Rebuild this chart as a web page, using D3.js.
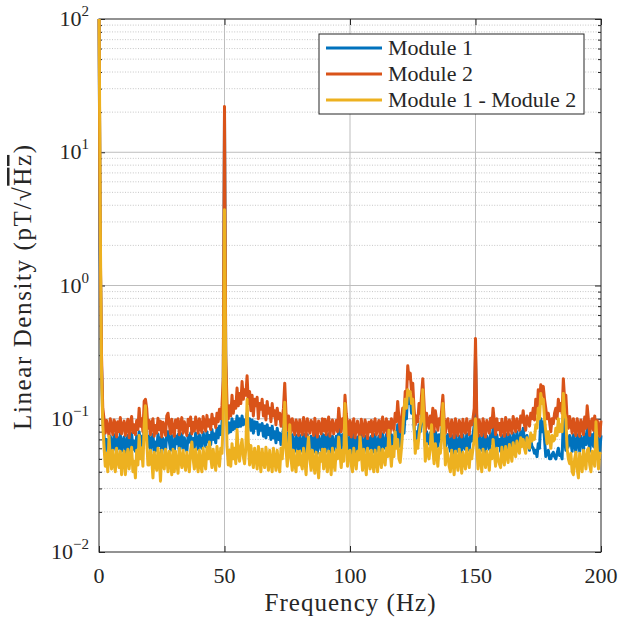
<!DOCTYPE html>
<html>
<head>
<meta charset="utf-8">
<script src="https://cdnjs.cloudflare.com/ajax/libs/d3/7.8.5/d3.min.js"></script>
<style>
body {margin: 0; background: #fff;}
svg text {font-family: "Liberation Serif", "DejaVu Serif", serif; fill: #262626;}
</style>
</head>
<body>
<div class="canvas"></div>
<script>
// data: 0.5 Hz bins, 0..200 Hz, one row = 10 Hz
const freqStep = 0.5;

const module1 = [
  110, 1.8, 0.25, 0.1, 0.075, 0.057, 0.07, 0.063, 0.056, 0.074, 0.066, 0.058, 0.076, 0.068, 0.055, 0.072, 0.06, 0.077, 0.057, 0.068,
  0.073, 0.056, 0.066, 0.075, 0.055, 0.07, 0.078, 0.059, 0.068, 0.057, 0.074, 0.062, 0.08, 0.064, 0.074, 0.06, 0.085, 0.09, 0.08, 0.062,
  0.074, 0.057, 0.069, 0.076, 0.056, 0.067, 0.058, 0.077, 0.063, 0.072, 0.055, 0.071, 0.066, 0.057, 0.078, 0.08, 0.068, 0.058, 0.075, 0.062,
  0.056, 0.074, 0.065, 0.076, 0.057, 0.069, 0.077, 0.059, 0.072, 0.063, 0.057, 0.075, 0.067, 0.078, 0.058, 0.071, 0.061, 0.078, 0.069, 0.059,
  0.076, 0.064, 0.06, 0.079, 0.07, 0.062, 0.08, 0.067, 0.075, 0.064, 0.083, 0.07, 0.077, 0.066, 0.085, 0.072, 0.088, 0.076, 0.092, 0.15,
  19, 0.25, 0.095, 0.078, 0.093, 0.08, 0.1, 0.083, 0.095, 0.085, 0.105, 0.087, 0.1, 0.088, 0.105, 0.09, 0.098, 0.092, 0.11, 0.09,
  0.1, 0.082, 0.098, 0.078, 0.095, 0.085, 0.094, 0.076, 0.09, 0.082, 0.092, 0.074, 0.088, 0.072, 0.09, 0.076, 0.085, 0.07, 0.088, 0.072,
  0.08, 0.066, 0.085, 0.07, 0.078, 0.064, 0.072, 0.085, 0.12, 0.08, 0.062, 0.078, 0.07, 0.058, 0.076, 0.066, 0.057, 0.075, 0.068, 0.056,
  0.075, 0.064, 0.057, 0.077, 0.068, 0.056, 0.076, 0.065, 0.058, 0.074, 0.069, 0.056, 0.078, 0.063, 0.055, 0.074, 0.066, 0.058, 0.077, 0.061,
  0.075, 0.057, 0.07, 0.077, 0.056, 0.068, 0.074, 0.058, 0.066, 0.074, 0.06, 0.085, 0.07, 0.06, 0.076, 0.064, 0.1, 0.08, 0.066, 0.057,
  0.074, 0.055, 0.067, 0.076, 0.054, 0.064, 0.073, 0.058, 0.054, 0.075, 0.063, 0.056, 0.074, 0.066, 0.054, 0.072, 0.06, 0.074, 0.056, 0.068,
  0.076, 0.057, 0.066, 0.074, 0.055, 0.07, 0.077, 0.06, 0.065, 0.076, 0.056, 0.072, 0.059, 0.076, 0.068, 0.062, 0.08, 0.07, 0.09, 0.075,
  0.062, 0.075, 0.085, 0.078, 0.11, 0.1, 0.16, 0.13, 0.15, 0.11, 0.13, 0.09, 0.068, 0.08, 0.072, 0.09, 0.08, 0.1, 0.13, 0.09,
  0.062, 0.08, 0.072, 0.065, 0.078, 0.068, 0.085, 0.062, 0.08, 0.074, 0.062, 0.076, 0.068, 0.08, 0.1, 0.075, 0.06, 0.072, 0.076, 0.063,
  0.057, 0.075, 0.066, 0.055, 0.076, 0.064, 0.057, 0.074, 0.068, 0.056, 0.076, 0.062, 0.059, 0.077, 0.066, 0.058, 0.074, 0.068, 0.076, 0.09,
  0.3, 0.085, 0.057, 0.075, 0.065, 0.058, 0.077, 0.067, 0.056, 0.074, 0.068, 0.059, 0.077, 0.065, 0.085, 0.072, 0.058, 0.076, 0.063, 0.07,
  0.057, 0.075, 0.065, 0.058, 0.077, 0.068, 0.059, 0.076, 0.066, 0.06, 0.078, 0.07, 0.062, 0.08, 0.068, 0.062, 0.08, 0.072, 0.085, 0.068,
  0.06, 0.075, 0.066, 0.058, 0.07, 0.062, 0.06, 0.055, 0.058, 0.052, 0.065, 0.06, 0.1, 0.08, 0.095, 0.07, 0.052, 0.056, 0.058, 0.05,
  0.05, 0.054, 0.056, 0.052, 0.05, 0.055, 0.06, 0.053, 0.054, 0.05, 0.1, 0.07, 0.058, 0.06, 0.062, 0.075, 0.068, 0.057, 0.076, 0.064,
  0.056, 0.076, 0.066, 0.057, 0.074, 0.068, 0.058, 0.077, 0.064, 0.085, 0.072, 0.057, 0.07, 0.076, 0.062, 0.08, 0.059, 0.074, 0.066, 0.057,
  0.075
];

const module2 = [
  120, 2.0, 0.3, 0.12, 0.1, 0.078, 0.097, 0.085, 0.074, 0.1, 0.088, 0.076, 0.098, 0.092, 0.073, 0.095, 0.08, 0.102, 0.077, 0.09,
  0.096, 0.075, 0.088, 0.099, 0.072, 0.093, 0.104, 0.079, 0.09, 0.076, 0.097, 0.083, 0.12, 0.088, 0.1, 0.08, 0.135, 0.14, 0.12, 0.085,
  0.097, 0.076, 0.092, 0.1, 0.074, 0.089, 0.078, 0.101, 0.083, 0.096, 0.073, 0.094, 0.088, 0.075, 0.105, 0.11, 0.09, 0.077, 0.099, 0.082,
  0.074, 0.098, 0.086, 0.1, 0.076, 0.091, 0.102, 0.078, 0.095, 0.084, 0.075, 0.099, 0.089, 0.103, 0.077, 0.094, 0.081, 0.103, 0.092, 0.078,
  0.1, 0.085, 0.079, 0.104, 0.092, 0.081, 0.106, 0.088, 0.098, 0.083, 0.108, 0.092, 0.1, 0.086, 0.11, 0.095, 0.118, 0.1, 0.126, 0.2,
  22, 0.3, 0.13, 0.1, 0.125, 0.105, 0.15, 0.11, 0.135, 0.12, 0.17, 0.125, 0.155, 0.13, 0.19, 0.14, 0.165, 0.15, 0.21, 0.13,
  0.16, 0.115, 0.15, 0.105, 0.14, 0.125, 0.145, 0.1, 0.13, 0.118, 0.14, 0.105, 0.125, 0.098, 0.135, 0.11, 0.12, 0.095, 0.13, 0.105,
  0.115, 0.09, 0.12, 0.1, 0.11, 0.088, 0.1, 0.12, 0.185, 0.11, 0.082, 0.105, 0.094, 0.079, 0.1, 0.087, 0.076, 0.098, 0.09, 0.075,
  0.098, 0.084, 0.076, 0.102, 0.09, 0.074, 0.1, 0.086, 0.078, 0.097, 0.092, 0.075, 0.101, 0.083, 0.073, 0.096, 0.088, 0.077, 0.1, 0.081,
  0.099, 0.076, 0.093, 0.103, 0.074, 0.09, 0.098, 0.077, 0.087, 0.097, 0.08, 0.12, 0.093, 0.08, 0.1, 0.085, 0.15, 0.11, 0.088, 0.076,
  0.097, 0.073, 0.089, 0.1, 0.072, 0.085, 0.096, 0.078, 0.071, 0.099, 0.084, 0.074, 0.098, 0.087, 0.071, 0.094, 0.08, 0.097, 0.074, 0.09,
  0.1, 0.076, 0.088, 0.097, 0.073, 0.092, 0.103, 0.079, 0.086, 0.1, 0.074, 0.095, 0.078, 0.1, 0.09, 0.082, 0.11, 0.095, 0.135, 0.1,
  0.08, 0.098, 0.12, 0.105, 0.16, 0.14, 0.25, 0.2, 0.22, 0.16, 0.185, 0.12, 0.09, 0.105, 0.095, 0.13, 0.11, 0.15, 0.2, 0.13,
  0.08, 0.11, 0.095, 0.085, 0.105, 0.09, 0.12, 0.08, 0.115, 0.098, 0.082, 0.1, 0.09, 0.115, 0.15, 0.1, 0.078, 0.095, 0.1, 0.083,
  0.074, 0.098, 0.088, 0.072, 0.1, 0.084, 0.075, 0.097, 0.09, 0.073, 0.099, 0.082, 0.078, 0.1, 0.087, 0.076, 0.096, 0.09, 0.1, 0.12,
  0.4, 0.11, 0.074, 0.098, 0.085, 0.075, 0.1, 0.088, 0.073, 0.097, 0.09, 0.078, 0.101, 0.086, 0.12, 0.095, 0.076, 0.1, 0.083, 0.092,
  0.075, 0.099, 0.085, 0.074, 0.102, 0.09, 0.076, 0.098, 0.087, 0.078, 0.104, 0.092, 0.08, 0.1, 0.088, 0.082, 0.105, 0.094, 0.115, 0.09,
  0.082, 0.105, 0.095, 0.088, 0.11, 0.1, 0.12, 0.098, 0.14, 0.11, 0.165, 0.13, 0.18, 0.15, 0.175, 0.14, 0.12, 0.1, 0.11, 0.095,
  0.08, 0.1, 0.092, 0.11, 0.12, 0.1, 0.14, 0.115, 0.13, 0.11, 0.2, 0.14, 0.15, 0.1, 0.085, 0.104, 0.092, 0.078, 0.1, 0.086,
  0.075, 0.1, 0.088, 0.074, 0.098, 0.09, 0.076, 0.103, 0.085, 0.125, 0.098, 0.075, 0.094, 0.1, 0.082, 0.105, 0.078, 0.097, 0.088, 0.074,
  0.097
];

const moduleDiff = [
  150, 3, 0.22, 0.09, 0.062, 0.044, 0.055, 0.04, 0.074, 0.05, 0.042, 0.058, 0.046, 0.04, 0.06, 0.049, 0.043, 0.057, 0.038, 0.052,
  0.057, 0.038, 0.05, 0.059, 0.042, 0.052, 0.061, 0.04, 0.048, 0.036, 0.058, 0.045, 0.075, 0.05, 0.06, 0.044, 0.09, 0.125, 0.07, 0.045,
  0.045, 0.058, 0.05, 0.036, 0.056, 0.047, 0.041, 0.06, 0.05, 0.034, 0.058, 0.046, 0.042, 0.059, 0.052, 0.04, 0.057, 0.048, 0.038, 0.059,
  0.04, 0.057, 0.046, 0.039, 0.06, 0.05, 0.043, 0.058, 0.047, 0.041, 0.056, 0.048, 0.04, 0.058, 0.067, 0.05, 0.042, 0.059, 0.047, 0.04,
  0.058, 0.045, 0.04, 0.06, 0.048, 0.042, 0.061, 0.05, 0.067, 0.052, 0.043, 0.059, 0.048, 0.041, 0.062, 0.05, 0.044, 0.06, 0.055, 0.1,
  3.7, 0.2, 0.062, 0.045, 0.058, 0.044, 0.065, 0.05, 0.06, 0.046, 0.083, 0.055, 0.048, 0.062, 0.07, 0.052, 0.046, 0.06, 0.14, 0.065,
  0.045, 0.063, 0.05, 0.043, 0.06, 0.052, 0.042, 0.062, 0.05, 0.04, 0.059, 0.048, 0.043, 0.061, 0.05, 0.041, 0.058, 0.047, 0.04, 0.06,
  0.049, 0.041, 0.058, 0.046, 0.04, 0.06, 0.05, 0.07, 0.133, 0.06, 0.044, 0.058, 0.09, 0.05, 0.041, 0.058, 0.046, 0.04, 0.057, 0.045,
  0.057, 0.046, 0.042, 0.06, 0.05, 0.038, 0.058, 0.073, 0.05, 0.041, 0.058, 0.047, 0.039, 0.056, 0.046, 0.036, 0.055, 0.048, 0.059, 0.042,
  0.059, 0.047, 0.04, 0.057, 0.05, 0.038, 0.06, 0.047, 0.041, 0.058, 0.05, 0.073, 0.055, 0.043, 0.058, 0.048, 0.13, 0.07, 0.044, 0.056,
  0.058, 0.045, 0.04, 0.06, 0.05, 0.042, 0.057, 0.049, 0.073, 0.055, 0.041, 0.059, 0.047, 0.038, 0.06, 0.05, 0.042, 0.058, 0.046, 0.04,
  0.058, 0.048, 0.04, 0.061, 0.05, 0.043, 0.059, 0.05, 0.045, 0.06, 0.052, 0.082, 0.058, 0.044, 0.062, 0.052, 0.08, 0.06, 0.07, 0.05,
  0.047, 0.06, 0.08, 0.12, 0.14, 0.12, 0.165, 0.15, 0.16, 0.13, 0.14, 0.09, 0.055, 0.068, 0.06, 0.075, 0.09, 0.1, 0.165, 0.09,
  0.048, 0.065, 0.055, 0.05, 0.062, 0.09, 0.06, 0.046, 0.065, 0.055, 0.044, 0.06, 0.055, 0.07, 0.13, 0.08, 0.045, 0.06, 0.052, 0.044,
  0.04, 0.058, 0.048, 0.038, 0.057, 0.047, 0.041, 0.059, 0.05, 0.039, 0.056, 0.048, 0.042, 0.06, 0.05, 0.043, 0.058, 0.05, 0.06, 0.07,
  0.1, 0.065, 0.042, 0.058, 0.05, 0.04, 0.059, 0.05, 0.043, 0.057, 0.05, 0.041, 0.058, 0.05, 0.07, 0.055, 0.044, 0.06, 0.05, 0.046,
  0.043, 0.061, 0.05, 0.045, 0.062, 0.053, 0.047, 0.064, 0.055, 0.048, 0.066, 0.057, 0.052, 0.068, 0.06, 0.055, 0.072, 0.062, 0.07, 0.06,
  0.055, 0.072, 0.065, 0.06, 0.078, 0.068, 0.075, 0.07, 0.09, 0.085, 0.12, 0.1, 0.155, 0.13, 0.14, 0.1, 0.08, 0.065, 0.08, 0.07,
  0.06, 0.075, 0.068, 0.07, 0.085, 0.075, 0.1, 0.08, 0.09, 0.08, 0.155, 0.11, 0.1, 0.06, 0.05, 0.046, 0.055, 0.04, 0.038, 0.05,
  0.056, 0.042, 0.036, 0.055, 0.047, 0.04, 0.058, 0.05, 0.042, 0.058, 0.06, 0.045, 0.04, 0.057, 0.05, 0.044, 0.095, 0.06, 0.042, 0.055,
  0.056
];

const seriesNames = ['Module 1', 'Module 2', 'Module 1 - Module 2'];
const seriesColours = ['#0072BD', '#D95319', '#EDB120'];
const xTicks = [0, 50, 100, 150, 200];
const yTicks = [1e-2, 1e-1, 1e0, 1e1, 1e2];
const yExponents = ['\u22122', '\u22121', '0', '1', '2'];

const dims = {width: 618, height: 618};
const plot = {left: 99, right: 601, top: 19, bottom: 552};
const serif = '"Liberation Serif", "DejaVu Serif", serif';

const svg = d3.select('.canvas')
    .append('svg')
    .attr('width', dims.width)
    .attr('height', dims.height)
    .attr('font-family', serif);

const x = d3.scaleLinear().domain([0, 200]).range([plot.left, plot.right]);
const y = d3.scaleLog().domain([1e-2, 1e2]).range([plot.bottom, plot.top]);

const minorY = y.ticks().filter(d => !yTicks.some(t => Math.abs(t - d) / t < 1e-6));

// grid
const grid = svg.append('g');
grid.selectAll('line.minor')
    .data(minorY)
    .enter().append('line')
    .attr('x1', plot.left).attr('x2', plot.right)
    .attr('y1', d => y(d)).attr('y2', d => y(d))
    .attr('stroke', '#c6c6c6')
    .attr('stroke-dasharray', '1,1.6');

grid.selectAll('line.hmaj')
    .data(yTicks.slice(1, -1))
    .enter().append('line')
    .attr('x1', plot.left).attr('x2', plot.right)
    .attr('y1', d => y(d)).attr('y2', d => y(d))
    .attr('stroke', '#bdbdbd');

grid.selectAll('line.vmaj')
    .data(xTicks.slice(1, -1))
    .enter().append('line')
    .attr('y1', plot.top).attr('y2', plot.bottom)
    .attr('x1', d => x(d)).attr('x2', d => x(d))
    .attr('stroke', '#bdbdbd');

// axes (ticks inside, MATLAB style)
const axisColour = '#262626';
const addAxis = (axis, tx, ty) => {
    const g = svg.append('g')
        .attr('transform', `translate(${tx}, ${ty})`)
        .call(axis);
    g.select('.domain').remove();
    g.selectAll('line').attr('stroke', axisColour);
    g.selectAll('text').remove();
    return g;
};

addAxis(d3.axisBottom(x).tickValues(xTicks).tickSize(-6), 0, plot.bottom);
addAxis(d3.axisTop(x).tickValues(xTicks).tickSize(-6), 0, plot.top);
addAxis(d3.axisLeft(y).tickValues(yTicks).tickSize(-6), plot.left, 0);
addAxis(d3.axisRight(y).tickValues(yTicks).tickSize(-6), plot.right, 0);
addAxis(d3.axisLeft(y).tickValues(minorY).tickSize(-3), plot.left, 0);
addAxis(d3.axisRight(y).tickValues(minorY).tickSize(-3), plot.right, 0);

svg.append('rect')
    .attr('x', plot.left).attr('y', plot.top)
    .attr('width', plot.right - plot.left)
    .attr('height', plot.bottom - plot.top)
    .attr('fill', 'none')
    .attr('stroke', axisColour)
    .attr('stroke-width', 1);

// tick labels
svg.selectAll('text.xtick')
    .data(xTicks)
    .enter().append('text')
    .attr('x', d => x(d))
    .attr('y', 583)
    .attr('text-anchor', 'middle')
    .attr('font-size', 22)
    .text(d => d);

const ylab = svg.selectAll('text.ytick')
    .data(yTicks)
    .enter().append('text')
    .attr('x', 89)
    .attr('y', d => y(d) + 7)
    .attr('text-anchor', 'end')
    .attr('font-size', 22);
ylab.append('tspan').text('10');
ylab.append('tspan')
    .attr('font-size', 15)
    .attr('dy', -10)
    .text((d, i) => yExponents[i]);

// axis labels
svg.append('text')
    .attr('x', (plot.left + plot.right) / 2)
    .attr('y', 611)
    .attr('text-anchor', 'middle')
    .attr('font-size', 25)
    .attr('textLength', 171)
    .text('Frequency (Hz)');

const yTitle = svg.append('text')
    .attr('transform', `translate(31, ${(plot.top + plot.bottom) / 2 + 2}) rotate(-90)`)
    .attr('text-anchor', 'middle')
    .attr('font-size', 25)
    .attr('textLength', 285);
yTitle.append('tspan').text('Linear Density (pT/\u221A');
yTitle.append('tspan').style('text-decoration', 'overline').text('Hz');
yTitle.append('tspan').text(')');

// lines
svg.append('clipPath').attr('id', 'clip')
    .append('rect')
    .attr('x', plot.left - 3).attr('y', plot.top)
    .attr('width', plot.right - plot.left + 6)
    .attr('height', plot.bottom - plot.top);

const line = d3.line()
    .x((d, i) => x(i * freqStep))
    .y(d => y(d));

const lines = svg.append('g').attr('clip-path', 'url(#clip)');
[module1, module2, moduleDiff].forEach((s, k) => {
    lines.append('path')
        .datum(s)
        .attr('d', line)
        .attr('fill', 'none')
        .attr('stroke', seriesColours[k])
        .attr('stroke-width', 3)
        .attr('stroke-linejoin', 'round');
});

// legend
const legend = svg.append('g');
legend.append('rect')
    .attr('x', 319).attr('y', 34)
    .attr('width', 265).attr('height', 80)
    .attr('fill', '#fff')
    .attr('stroke', axisColour);

const items = legend.selectAll('g.item')
    .data(seriesNames)
    .enter().append('g')
    .attr('transform', (d, i) => `translate(0, ${48 + i * 26})`);
items.append('line')
    .attr('x1', 326).attr('x2', 382)
    .attr('stroke', (d, i) => seriesColours[i])
    .attr('stroke-width', 3);
items.append('text')
    .attr('x', 388)
    .attr('y', 7)
    .attr('font-size', 22)
    .text(d => d);
</script>
</body>
</html>
